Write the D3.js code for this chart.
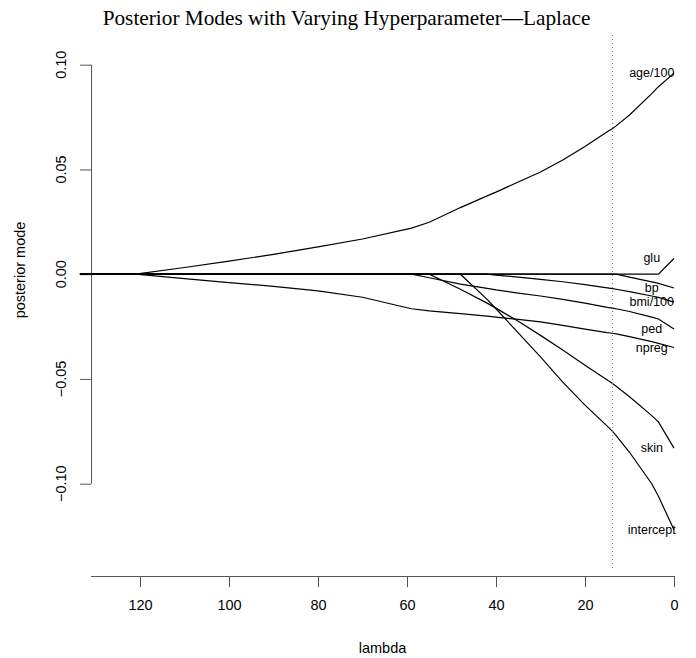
<!DOCTYPE html>
<html>
<head>
<meta charset="utf-8">
<script src="https://cdn.jsdelivr.net/npm/d3@7"></script>
<style>
  body { margin: 0; background: #fff; }
  svg { display: block; }
</style>
</head>
<body>
<svg id="svg" width="696" height="658"></svg>
<script>
// lambda grid (shared by all series)
var lambda = [133.5, 121, 110, 100, 90, 80, 70, 60, 59, 55, 48, 42, 40, 35, 30, 25, 20, 15, 13.8, 13, 10, 5, 3.5, 0];

// posterior modes along the grid
var age       = [0, 0, 0.0032, 0.0062, 0.0095, 0.0130, 0.0168, 0.0215, 0.0220, 0.0248, 0.0318, 0.0374, 0.0392, 0.0440, 0.0488, 0.0545, 0.0610, 0.0680, 0.0696, 0.0708, 0.0760, 0.0862, 0.0895, 0.0960];
var glu       = [0, 0, 0, 0, 0, 0, 0, 0, 0, 0, 0, 0, 0, 0, 0, 0, 0, 0, 0, 0, 0, 0, 0, 0.0075];
var bp        = [0, 0, 0, 0, 0, 0, 0, 0, 0, 0, 0, 0, 0, 0, 0, 0, 0, 0, 0, 0, -0.0014, -0.0037, -0.0044, -0.0066];
var bmi       = [0, 0, 0, 0, 0, 0, 0, 0, 0, 0, 0, 0, -0.0004, -0.0014, -0.0025, -0.0036, -0.0050, -0.0065, -0.0069, -0.0072, -0.0083, -0.0104, -0.0111, -0.0133];
var ped       = [0, 0, 0, 0, 0, 0, 0, 0, 0, -0.0017, -0.0047, -0.0068, -0.0075, -0.0090, -0.0104, -0.0120, -0.0138, -0.0158, -0.0162, -0.0165, -0.0178, -0.0205, -0.0214, -0.0262];
var npreg     = [0, 0, -0.0021, -0.0040, -0.0058, -0.0080, -0.0110, -0.0160, -0.0165, -0.0175, -0.0188, -0.0200, -0.0205, -0.0216, -0.0228, -0.0244, -0.0262, -0.0279, -0.0282, -0.0285, -0.0298, -0.0322, -0.0330, -0.0350];
var skin      = [0, 0, 0, 0, 0, 0, 0, 0, 0, 0, -0.0072, -0.0138, -0.0162, -0.0225, -0.0292, -0.0362, -0.0435, -0.0505, -0.0522, -0.0535, -0.0585, -0.0675, -0.0705, -0.0830];
var intercept = [0, 0, 0, 0, 0, 0, 0, 0, 0, 0, 0, -0.0120, -0.0165, -0.0280, -0.0395, -0.0515, -0.0625, -0.0725, -0.0750, -0.0770, -0.0850, -0.1000, -0.1060, -0.1220];

var seriesNames = ["age/100", "glu", "bp", "bmi/100", "ped", "npreg", "skin", "intercept"];
var seriesValues = [age, glu, bp, bmi, ped, npreg, skin, intercept];

var xTicks = [120, 100, 80, 60, 40, 20, 0];
var yTicks = [-0.10, -0.05, 0.00, 0.05, 0.10];
var chosenLambda = 13.8;
var labelLambda = 5;

var svg = d3.select("#svg");
var sans = "'Liberation Sans', Arial, Helvetica, sans-serif";
var serif = "'Liberation Serif', 'Times New Roman', serif";

var x = d3.scaleLinear().domain([120, 0]).range([140, 674]);
var y = d3.scaleLinear().domain([-0.10, 0.10]).range([483.7, 64.7]);
var left = x(131);

// title
var title = svg.append("text")
    .attr("x", 346.5)
    .attr("y", 25)
    .attr("text-anchor", "middle")
    .attr("font-family", serif)
    .attr("font-size", "20px")
    .attr("fill", "#000")
    .text("Posterior Modes with Varying Hyperparameter\u2014Laplace");
var tl = title.node().getComputedTextLength();
title.attr("font-size", (20 * 488 / tl).toFixed(2) + "px");

// x axis
var xAxis = d3.axisBottom(x).tickValues(xTicks).tickSize(11).tickPadding(13).tickFormat(d3.format("d"));
var gx = svg.append("g").attr("transform", "translate(0,576)").call(xAxis);
gx.select(".domain").attr("d", "M" + left + ",0.5H" + x(0));
gx.selectAll("line, path").attr("stroke", "#555");
gx.selectAll("text").attr("font-family", sans).attr("font-size", "14.5px").attr("fill", "#000");

// y axis
var yAxis = d3.axisLeft(y).tickValues(yTicks).tickSize(11).tickFormat(function (d) {
    return d3.format(".2f")(d).replace("-", "\u2212");
});
var gy = svg.append("g").attr("transform", "translate(" + left + ",0)").call(yAxis);
gy.select(".domain").attr("d", "M0.5," + y(0.10) + "V" + y(-0.10));
gy.selectAll("line, path").attr("stroke", "#555");
gy.selectAll("text").remove();
yTicks.forEach(function (t) {
    svg.append("text")
        .attr("transform", "translate(61," + y(t) + ") rotate(-90)")
        .attr("text-anchor", "middle")
        .attr("dominant-baseline", "central")
        .attr("font-family", sans)
        .attr("font-size", "14.5px")
        .text(d3.format(".2f")(t).replace("-", "\u2212"));
});

// axis titles
svg.append("text")
    .attr("x", (left + x(0)) / 2)
    .attr("y", 648)
    .attr("text-anchor", "middle")
    .attr("dominant-baseline", "central")
    .attr("font-family", sans)
    .attr("font-size", "14.5px")
    .text("lambda");
svg.append("text")
    .attr("transform", "translate(20,270) rotate(-90)")
    .attr("text-anchor", "middle")
    .attr("dominant-baseline", "central")
    .attr("font-family", sans)
    .attr("font-size", "14.5px")
    .text("posterior mode");

// paths
var line = d3.line()
    .x(function (d, i) { return x(lambda[i]); })
    .y(function (d) { return y(d); });

svg.append("g").selectAll("path")
    .data(seriesValues)
    .enter()
    .append("path")
    .attr("d", line)
    .attr("fill", "none")
    .attr("stroke", "#000")
    .attr("stroke-width", 1.2);

// chosen lambda
svg.append("line")
    .attr("x1", x(chosenLambda)).attr("x2", x(chosenLambda))
    .attr("y1", 35).attr("y2", 570)
    .attr("stroke", "#777")
    .attr("stroke-dasharray", "1,3");

// labels at the end of each path
svg.append("g").selectAll("text")
    .data(seriesNames)
    .enter()
    .append("text")
    .attr("x", x(labelLambda))
    .attr("y", function (d, i) { var v = seriesValues[i]; return y(v[v.length - 1]); })
    .attr("text-anchor", "middle")
    .attr("dominant-baseline", "central")
    .attr("font-family", sans)
    .attr("font-size", "12.5px")
    .text(function (d) { return d; });
</script>
</body>
</html>
